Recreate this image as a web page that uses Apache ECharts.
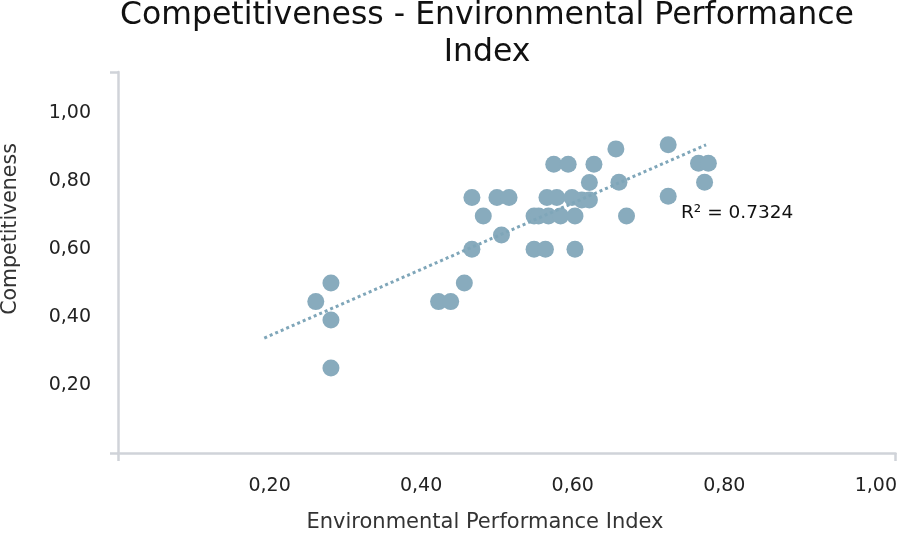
<!DOCTYPE html>
<html>
<head>
<meta charset="utf-8">
<script src="https://cdn.jsdelivr.net/npm/echarts@6/dist/echarts.min.js"></script>
<style>html,body{margin:0;padding:0;background:#fff}#c{width:900px;height:536px}</style>
</head>
<body>
<div id="c"></div>
<script>
// Environmental Performance Index (x) and Competitiveness (y)
var epi = [0.261,0.281,0.281,0.281,0.423,0.439,0.457,0.467,0.467,0.482,0.500,0.516,0.506,
           0.549,0.564,0.603,0.549,0.555,0.568,0.584,0.603,0.671,0.566,0.579,0.599,0.612,0.622,
           0.575,0.594,0.628,0.622,0.661,0.657,0.726,0.726,0.766,0.779,0.774];
var competitiveness = [0.445,0.500,0.391,0.250,0.445,0.445,0.500,0.599,0.751,0.697,0.751,0.751,0.641,
           0.599,0.599,0.599,0.697,0.697,0.697,0.697,0.697,0.697,0.751,0.751,0.751,0.744,0.744,
           0.849,0.849,0.849,0.795,0.796,0.894,0.906,0.755,0.852,0.852,0.796];
// linear trendline end points as drawn
var trendX = [0.193, 0.776];
var trendY = [0.338, 0.906];
var rSquared = 'R² = 0.7324';
var xTicks = [0.2, 0.4, 0.6, 0.8, 1.0];
var yTicks = [0.2, 0.4, 0.6, 0.8, 1.0];
var titleLines = ['Competitiveness - Environmental Performance', 'Index'];
var xName = 'Environmental Performance Index';
var yName = 'Competitiveness';

var FONT = '"DejaVu Sans", sans-serif';
var AXIS_COLOR = '#d0d3d9';
var POINT_COLOR = '#88abbd';
var X_MAX = 1.026, Y_MAX = 1.12;

function fmt(list) {
  return function (v) {
    for (var i = 0; i < list.length; i++) if (Math.abs(v - list[i]) < 1e-6) return v.toFixed(2).replace('.', ',');
    return '';
  };
}

var pts = epi.map(function (x, i) { return [x, competitiveness[i]]; });
var trend = trendX.map(function (x, i) { return [x, trendY[i]]; });

var chart = echarts.init(document.getElementById('c'), null, {renderer: 'canvas'});
chart.setOption({
  backgroundColor: '#ffffff',
  animation: false,
  grid: {left: 118, top: 72, right: 3, bottom: 83, containLabel: false},
  xAxis: [{
    type: 'value', min: 0, max: X_MAX, interval: 0.2,
    axisLine: {show: false}, axisTick: {show: false}, splitLine: {show: false},
    axisLabel: {formatter: fmt(xTicks), margin: 24, color: '#222', fontSize: 19, fontFamily: FONT}
  }, {
    type: 'value', min: 0, max: X_MAX, interval: X_MAX, position: 'bottom',
    axisLine: {show: true, lineStyle: {color: AXIS_COLOR, width: 2.5}},
    axisTick: {show: true, length: 8, lineStyle: {color: AXIS_COLOR, width: 2.5}},
    axisLabel: {show: false}, splitLine: {show: false}
  }],
  yAxis: [{
    type: 'value', min: 0, max: Y_MAX, interval: 0.2,
    axisLine: {show: false}, axisTick: {show: false}, splitLine: {show: false},
    axisLabel: {formatter: fmt(yTicks), margin: 27, color: '#222', fontSize: 19, fontFamily: FONT}
  }, {
    type: 'value', min: 0, max: Y_MAX, interval: Y_MAX, position: 'left',
    axisLine: {show: true, lineStyle: {color: AXIS_COLOR, width: 2.5}},
    axisTick: {show: true, length: 8, lineStyle: {color: AXIS_COLOR, width: 2.5}},
    axisLabel: {show: false}, splitLine: {show: false}
  }],
  series: [{
    type: 'line', data: trend, xAxisIndex: 0, yAxisIndex: 0,
    symbol: 'none', silent: true,
    lineStyle: {color: '#7fa6b9', width: 3, type: 'dotted', cap: 'butt'}, z: 3
  }, {
    type: 'scatter', data: pts, xAxisIndex: 0, yAxisIndex: 0,
    symbolSize: 17, itemStyle: {color: POINT_COLOR, opacity: 1}, z: 2
  }],
  graphic: [{
    type: 'text', x: 487, y: 16,
    style: {text: titleLines[0], font: '400 31.5px ' + FONT, fill: '#111', textAlign: 'center', textVerticalAlign: 'middle'}
  }, {
    type: 'text', x: 487, y: 53,
    style: {text: titleLines[1], font: '400 31.5px ' + FONT, fill: '#111', textAlign: 'center', textVerticalAlign: 'middle'}
  }, {
    type: 'text', x: 485, y: 523,
    style: {text: xName, font: '400 21px ' + FONT, fill: '#333', textAlign: 'center', textVerticalAlign: 'middle'}
  }, {
    type: 'text', x: 0, y: 229, rotation: Math.PI / 2, originX: 0, originY: 0,
    style: {text: yName, font: '400 20.5px ' + FONT, fill: '#333', textAlign: 'center', textVerticalAlign: 'top'}
  }, {
    type: 'text', x: 681, y: 213,
    style: {text: rSquared, font: '400 18.5px ' + FONT, fill: '#111', textVerticalAlign: 'middle'}
  }]
});
</script>
</body>
</html>
